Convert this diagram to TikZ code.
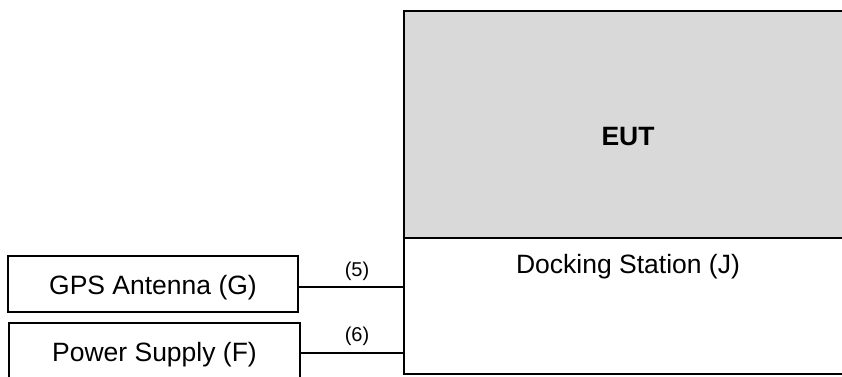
\documentclass[tikz,border=0pt]{standalone}
\usepackage{fontspec}
\setmainfont{Liberation Sans}
\usetikzlibrary{calc}
\definecolor{eutgray}{HTML}{D9D9D9}
\begin{document}
\begin{tikzpicture}[x=0.5pt,y=-0.5pt,
  box/.style={draw=black,line width=0.9pt,rectangle,inner sep=0pt},
  maintext/.style={font=\fontsize{13.25}{15}\selectfont},
  lbl/.style={font=\fontsize{10}{12}\selectfont},
  wire/.style={draw=black,line width=0.9pt}]
\useasboundingbox (0,0) rectangle (842,376);
\clip (0,0) rectangle (842,376);
\node[box,fill=eutgray,minimum width=224pt,minimum height=113.5pt] (eut) at (628,124.5) {};
\node[font=\fontsize{13.25}{15}\bfseries\selectfont] (euttext) at (628,137) {EUT};
\node[box,fill=white,minimum width=224pt,minimum height=68pt] (dock) at (628,306) {};
\node[maintext] (docktext) at (628,267) {Docking Station (J)};
\node[box,minimum width=145pt,minimum height=28pt] (gps) at (153,284) {};
\node[maintext] (gpstext) at (153,288) {GPS Antenna (G)};
\node[box,minimum width=145.5pt,minimum height=30pt] (pwr) at (154.5,353) {};
\node[maintext] (pwrtext) at (154.5,355) {Power Supply (F)};
\coordinate (gpsout) at ($(gps.east)+(0,3)$);
\draw[wire] (gpsout) -- (gpsout -| dock.west);
\draw[wire] (pwr.east) -- (pwr.east -| dock.west);
\node[lbl] (l5) at (357,271) {(5)};
\node[lbl] (l6) at (357,336) {(6)};
\end{tikzpicture}
\end{document}
